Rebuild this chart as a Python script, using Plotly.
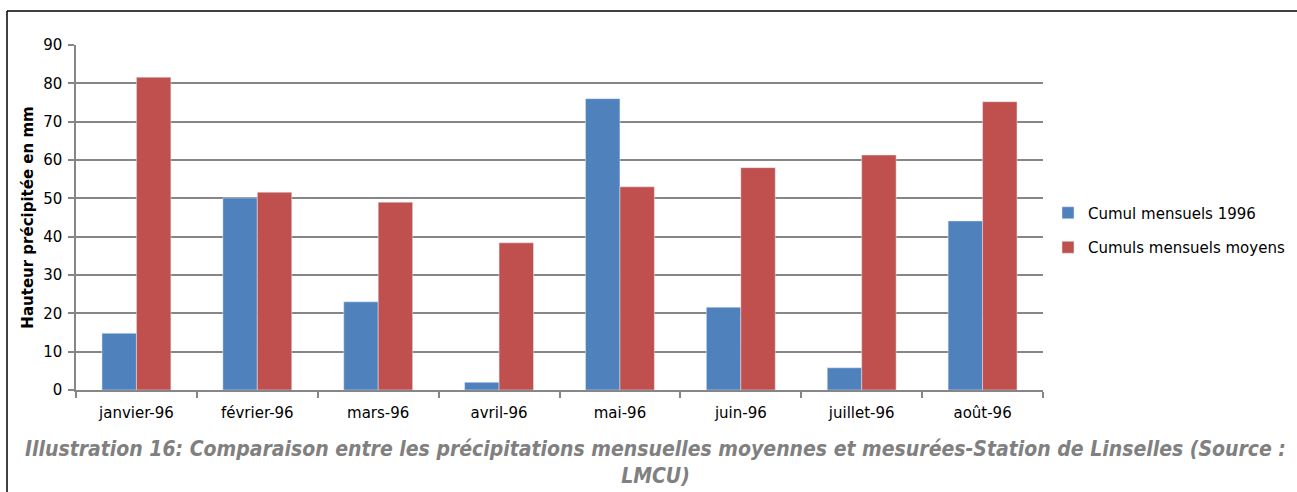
import plotly.graph_objects as go

months = ["janvier-96", "février-96", "mars-96", "avril-96", "mai-96", "juin-96", "juillet-96", "août-96"]
cumul_1996 = [14.8, 50.1, 23.0, 2.0, 76.0, 21.6, 5.8, 44.1]
cumul_moyens = [81.6, 51.6, 49.0, 38.4, 53.0, 58.0, 61.3, 75.2]
series_names = ["Cumul mensuels 1996", "Cumuls mensuels moyens"]
y_ticks = [0, 10, 20, 30, 40, 50, 60, 70, 80, 90]
y_title = "Hauteur précipitée en mm"
caption = ("Illustration 16: Comparaison entre les précipitations mensuelles moyennes et mesurées-Station de Linselles (Source :"
           "<br>LMCU)")

W, H = 1297, 492
ml, mr, mt, mb = 76, 254, 45, 102

fig = go.Figure()
fig.add_trace(go.Bar(x=months, y=cumul_1996, name=series_names[0], marker_color="#4F81BD",
                     legendgroup="a"))
fig.add_trace(go.Bar(x=months, y=cumul_moyens, name=series_names[1], marker_color="#C0504D",
                     legendgroup="b"))

pw = W - ml - mr
ph = H - mt - mb

fig.update_layout(
    width=W, height=H,
    margin=dict(l=ml, r=mr, t=mt, b=mb, autoexpand=False),
    paper_bgcolor="white", plot_bgcolor="white",
    barmode="group", bargap=0.43, bargroupgap=0,
    font=dict(family="DejaVu Sans", size=15, color="#000000"),
    legend=dict(x=(1048 - ml) / pw, y=(390 - 230) / ph, xanchor="left", yanchor="middle",
                font=dict(family="DejaVu Sans", size=15, color="#000000"),
                tracegroupgap=12, itemwidth=30, bgcolor="rgba(0,0,0,0)"),
    xaxis=dict(showline=True, linecolor="#868686", linewidth=1.5, ticks="outside",
               tickson="boundaries", ticklen=6, tickcolor="#868686", tickwidth=1.5,
               ticklabelstandoff=8,
               tickfont=dict(family="DejaVu Sans", size=15, color="#000000"),
               showgrid=False),
    yaxis=dict(range=[0, 90], tickvals=y_ticks, showline=True, linecolor="#868686", linewidth=1.5,
               ticks="outside", ticklen=6, tickcolor="#868686", tickwidth=1.5,
               ticklabelstandoff=3,
               gridcolor="#868686", gridwidth=1.5, zeroline=False,
               tickfont=dict(family="DejaVu Sans", size=15, color="#000000"),
               title=dict(text="<b>" + y_title + "</b>", font=dict(family="DejaVu Sans", size=15, color="#000000"),
                          standoff=6)),
    showlegend=True,
)

# border around chart
fig.add_shape(type="line", xref="paper", yref="paper",
              x0=(7 - ml) / pw, x1=(W - ml) / pw, y0=(H - mb - 11) / ph, y1=(H - mb - 11) / ph,
              line=dict(color="black", width=1.5))
fig.add_shape(type="line", xref="paper", yref="paper",
              x0=(7 - ml) / pw, x1=(7 - ml) / pw, y0=(H - mb - 11) / ph, y1=(H - mb - H) / ph,
              line=dict(color="black", width=1.5))

fig.add_annotation(text="<b><i>" + caption + "</i></b>", xref="paper", yref="paper",
                   x=(655 - ml) / pw, y=(H - mb - 435) / ph, xanchor="center", yanchor="top",
                   showarrow=False, align="center",
                   font=dict(family="Liberation Sans Narrow, DejaVu Sans Condensed, Open Sans", size=21, color="#808080"))

fig.write_html("out.html", config={"displayModeBar": False},
               post_script="document.body.style.margin='0';document.body.style.overflow='hidden';")
